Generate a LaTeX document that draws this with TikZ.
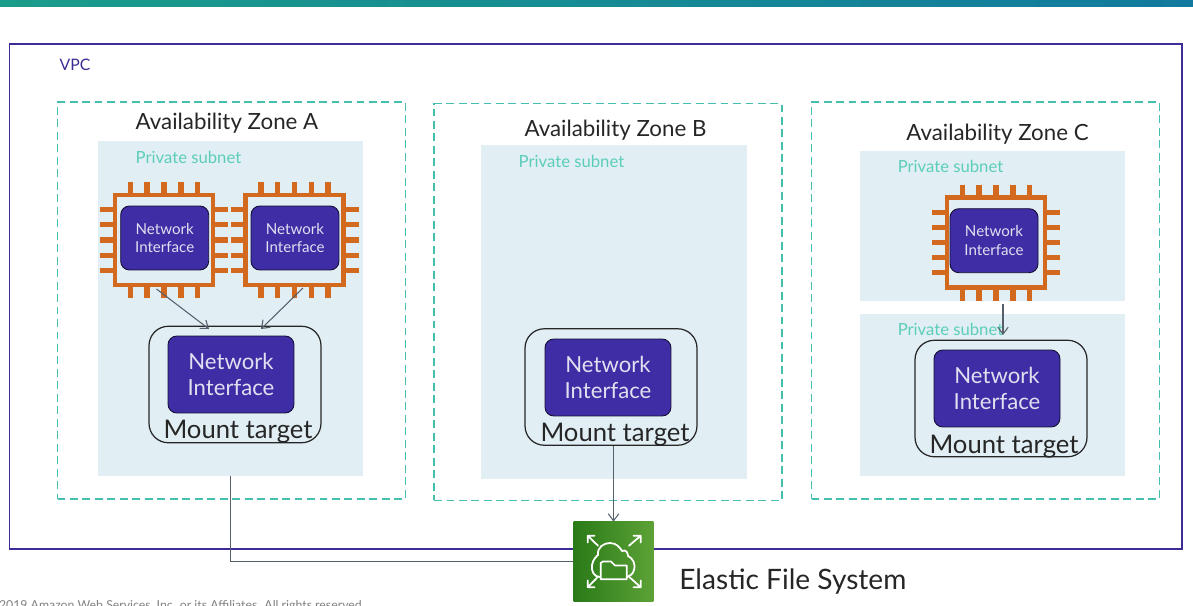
\documentclass[tikz,border=0pt]{standalone}
\usepackage{fontspec}
\setmainfont{Lato}
\usetikzlibrary{arrows.meta}
\definecolor{vpcpurple}{HTML}{3F2B96}
\definecolor{niblue}{HTML}{3F2DA5}
\definecolor{azteal}{HTML}{45BFAE}
\definecolor{subtext}{HTML}{5CCDB9}
\definecolor{subfill}{HTML}{E1EFF4}
\definecolor{chiporange}{HTML}{D2691E}
\definecolor{linegray}{HTML}{55606B}
\definecolor{barleft}{HTML}{1A9C8A}
\definecolor{barright}{HTML}{127A9E}
\definecolor{efsdark}{HTML}{2A7A18}
\definecolor{efslight}{HTML}{5CA236}
\tikzset{
	zonebox/.style={draw=azteal,line width=1pt,dash pattern=on 4.5pt off 2.6pt,minimum width=6.96cm,minimum height=7.94cm,inner sep=0pt},
	subnetbox/.style={fill=subfill,minimum width=5.32cm,inner sep=0pt},
	chipbox/.style={draw=chiporange,line width=2.8pt,minimum width=1.96cm,minimum height=1.8cm,inner sep=0pt},
	pinline/.style={draw=chiporange,line width=3pt},
	nismall/.style={fill=niblue,draw=black!70!niblue,line width=0.5pt,rounded corners=5pt,text=white!85!niblue,minimum width=1.76cm,minimum height=1.28cm,inner sep=0pt,align=center,font=\fontsize{8.6}{10.8}\selectfont},
	nilarge/.style={fill=niblue,draw=black!70!niblue,line width=0.5pt,rounded corners=5pt,text=white!85!niblue,minimum width=2.52cm,minimum height=1.54cm,inner sep=0pt,align=center,font=\fontsize{12.6}{15.2}\selectfont},
	mountbox/.style={draw=black!85,line width=0.7pt,rounded corners=11pt,fill=none,minimum width=3.44cm,minimum height=2.33cm,inner sep=0pt},
	mountlabel/.style={inner sep=0pt,font=\fontsize{14.6}{17}\selectfont,text=black!85},
	zonelabel/.style={inner sep=0pt,font=\fontsize{12.7}{15}\selectfont,text=black!85},
	subnetlabel/.style={inner sep=0pt,font=\fontsize{9.5}{11}\selectfont,text=subtext},
	flowline/.style={draw=linegray,line width=0.6pt,-{Straight Barb[length=4pt,width=6pt]}},
	iconline/.style={draw=white,line width=1pt,line cap=round,line join=round},
}
\begin{document}
\begin{tikzpicture}[x=0.02cm,y=-0.02cm]
	\useasboundingbox (0,0) rectangle (1193,605);
	\shade[left color=barleft,right color=barright] (0,0) rectangle (1193,6);
	\node[inner sep=0pt,anchor=east,text=black!50,font=\fontsize{7}{8}\selectfont] (copyr) at (365,606) {©2019 Amazon Web Services, Inc. or its Affiliates. All rights reserved.};
	\node[draw=vpcpurple,line width=0.85pt,minimum width=23.45cm,minimum height=10.1cm,inner sep=0pt] (vpc) at (595.75,296.5) {};
	\node[inner sep=0pt,text=vpcpurple,font=\fontsize{9}{11}\selectfont] (vpclabel) at (75,64.5) {VPC};

	\node[zonebox] (zoneA) at (231.5,300.5) {};
	\node[zonebox] (zoneB) at (608,302) {};
	\node[zonebox] (zoneC) at (985.5,300.5) {};
	\node[zonelabel] (labelA) at (227,123.5) {Availability Zone A};
	\node[zonelabel] (labelB) at (615.5,130.5) {Availability Zone B};
	\node[zonelabel] (labelC) at (997.5,134.5) {Availability Zone C};

	\node[subnetbox,minimum height=6.7cm] (subA) at (230.5,308.5) {};
	\node[subnetbox,minimum height=6.68cm] (subB) at (614,312) {};
	\node[subnetbox,minimum height=3cm] (subC) at (992.5,226) {};
	\node[subnetbox,minimum height=3.24cm] (subD) at (992.5,395) {};
	\node[subnetlabel] (textA) at (188.5,157.5) {Private subnet};
	\node[subnetlabel] (textB) at (571.5,161.5) {Private subnet};
	\node[subnetlabel] (textC) at (950.5,166.5) {Private subnet};
	\node[subnetlabel] (textD) at (950.5,329.5) {Private subnet};

	\foreach \cx/\cy/\cname in {164/240/A,294.5/240/B,996/242.5/C}{
		\foreach \d in {-33.5,-17,0,17,33.5}{
			\draw[pinline] (\cx+\d,\cy-58) -- (\cx+\d,\cy-47);
			\draw[pinline] (\cx+\d,\cy+47) -- (\cx+\d,\cy+58);
			\draw[pinline] (\cx-64,\cy+0.9*\d) -- (\cx-49,\cy+0.9*\d);
			\draw[pinline] (\cx+49,\cy+0.9*\d) -- (\cx+64,\cy+0.9*\d);
		}
		\node[chipbox] (chip\cname) at (\cx,\cy) {};
	}
	\node[nismall] (niA) at (164.7,238) {Network\\Interface};
	\node[nismall] (niB) at (295,238) {Network\\Interface};
	\node[nismall] (niC) at (994,240.7) {Network\\Interface};

	\node[mountbox] (mountA) at (235,384.5) {};
	\node[mountbox] (mountB) at (611,387) {};
	\node[mountbox] (mountC) at (1001,398.5) {};
	\node[nilarge] (niD) at (231,374.5) {Network\\Interface};
	\node[nilarge] (niE) at (608,377.5) {Network\\Interface};
	\node[nilarge] (niF) at (997,388.5) {Network\\Interface};
	\node[mountlabel] (mlabelA) at (238,432) {Mount target};
	\node[mountlabel] (mlabelB) at (615,435) {Mount target};
	\node[mountlabel] (mlabelC) at (1004,447) {Mount target};

	\node[inner sep=0pt,minimum size=1.58cm] (efs) at (613.5,561.5) {};
	\shade[shading angle=45,left color=efsdark,right color=efslight] (efs.south west) rectangle (efs.north east);
	\node[inner sep=0pt,anchor=west,text=black!85,font=\fontsize{16}{19}\selectfont] (efslabel) at (679,582) {Elastic File System};

	\draw[iconline] (598,545.7) -- (587.7,535.7) (587.7,542.5) -- (587.7,535.7) -- (594.5,535.7);
	\draw[iconline] (629,545.7) -- (640.7,535.7) (640.7,542.5) -- (640.7,535.7) -- (633.5,535.7);
	\draw[iconline] (598,576.7) -- (587.7,587.3) (587.7,580.5) -- (587.7,587.3) -- (594.5,587.3);
	\draw[iconline] (629,576.7) -- (640.7,587.3) (640.7,580.5) -- (640.7,587.3) -- (633.5,587.3);
	\draw[iconline] (600,577) .. controls (594,577) and (591,571) .. (592,565) .. controls (593,559) and (597,556) .. (598,555) .. controls (597,547) and (604,543) .. (610,543) .. controls (617,543) and (620,548) .. (622,551) .. controls (626,549) and (628,553) .. (628,556) .. controls (633,558) and (636,565) .. (634,570) .. controls (633,574) and (630,576) .. (627,577);
	\draw[iconline,fill=efsdark!60!efslight] (600.7,579.3) -- (600.7,563) -- (603,561.5) -- (611,561.5) -- (615,565.5) -- (626.7,565.5) -- (626.7,579.3) -- cycle;

	\coordinate (startA) at (156.5,289);
	\coordinate (endA) at (209,329);
	\coordinate (startB) at (303,288);
	\coordinate (endB) at (261,329);
	\coordinate (startC) at (1003,304);
	\coordinate (endC) at (1003,335);
	\draw[flowline] (startA) -- (endA);
	\draw[flowline] (startB) -- (endB);
	\draw[flowline] (startC) -- (endC);
	\draw[flowline] (mountB.south -| efs.north) -- (efs.north);
	\draw[draw=linegray,line width=0.6pt] (subA.south) |- (efs.west);
\end{tikzpicture}
\end{document}
